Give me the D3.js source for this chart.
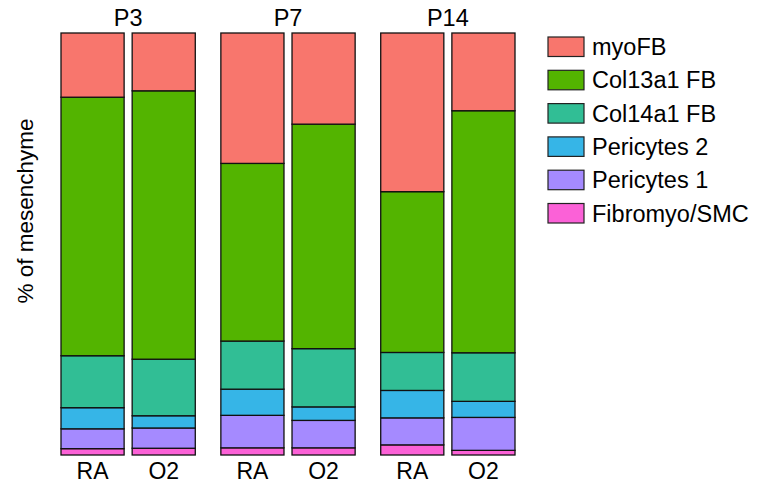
<!DOCTYPE html>
<html>
<head>
<meta charset="utf-8">
<script src="https://cdn.jsdelivr.net/npm/d3@7/dist/d3.min.js"></script>
<style>
  html, body { margin: 0; padding: 0; background: #fff; }
  svg { display: block; font-family: "Liberation Sans", Arial, sans-serif; }
</style>
</head>
<body>
<svg id="chart" width="758" height="488"></svg>
<script>
// ---- data (percent of mesenchyme) ----
const timepoints = ["P3", "P7", "P14"];
const conditions = ["RA", "O2"];
const cellTypes = ["myoFB", "Col13a1 FB", "Col14a1 FB", "Pericytes 2", "Pericytes 1", "Fibromyo/SMC"];
const colors = ["#F8766D", "#53B400", "#31BE95", "#36B5E7", "#A58AFF", "#FB61D7"];
// values listed in cellTypes order, one array per bar
const P3_RA  = [15.2, 61.2, 12.3, 5.0, 4.7, 1.5];
const P3_O2  = [13.7, 63.6, 13.4, 2.9, 4.8, 1.6];
const P7_RA  = [30.9, 42.1, 11.4, 6.2, 7.7, 1.7];
const P7_O2  = [21.6, 53.2, 13.8, 3.2, 6.5, 1.7];
const P14_RA = [37.6, 38.1, 9.0, 6.5, 6.4, 2.4];
const P14_O2 = [18.4, 57.3, 11.5, 3.8, 7.8, 1.1];
const yLabel = "% of mesenchyme";

const barValues = {
  "P3|RA": P3_RA, "P3|O2": P3_O2,
  "P7|RA": P7_RA, "P7|O2": P7_O2,
  "P14|RA": P14_RA, "P14|O2": P14_O2
};

const rows = [];
timepoints.forEach(t => conditions.forEach(c => {
  const r = { time: t, cond: c };
  cellTypes.forEach((ct, i) => r[ct] = barValues[t + "|" + c][i]);
  rows.push(r);
}));

const svg = d3.select("#chart");
const plotTop = 33, plotBottom = 455;

const xPanel = d3.scaleBand().domain(timepoints).range([61, 515]).paddingInner(0.16).paddingOuter(0);
const xCond = d3.scaleBand().domain(conditions).range([0, xPanel.bandwidth()]).paddingInner(0.113).paddingOuter(0);
const y = d3.scaleLinear().domain([0, 1]).range([plotBottom, plotTop]);
const color = d3.scaleOrdinal().domain(cellTypes).range(colors);

// stack from bottom: Fibromyo/SMC first ... myoFB on top
const stackKeys = cellTypes.slice().reverse();
const series = d3.stack().keys(stackKeys).offset(d3.stackOffsetExpand)(rows);

const g = svg.append("g");
series.forEach(s => {
  g.selectAll(null)
    .data(s)
    .join("rect")
    .attr("x", d => xPanel(d.data.time) + xCond(d.data.cond))
    .attr("y", d => y(d[1]))
    .attr("width", xCond.bandwidth())
    .attr("height", d => y(d[0]) - y(d[1]))
    .attr("fill", color(s.key))
    .attr("stroke", "#111")
    .attr("stroke-width", 1.3);
});

// facet strip labels
svg.selectAll(".strip")
  .data(timepoints)
  .join("text")
  .attr("x", d => xPanel(d) + xPanel.bandwidth() / 2)
  .attr("y", 26)
  .attr("text-anchor", "middle")
  .attr("font-size", 23.5)
  .attr("fill", "#000")
  .text(d => d);

// x labels per panel
timepoints.forEach(t => {
  svg.selectAll(null)
    .data(conditions)
    .join("text")
    .attr("x", c => xPanel(t) + xCond(c) + xCond.bandwidth() / 2)
    .attr("y", 478.5)
    .attr("text-anchor", "middle")
    .attr("font-size", 23)
    .attr("fill", "#000")
    .text(c => c);
});

// y label
svg.append("text")
  .attr("transform", "translate(33,211) rotate(-90)")
  .attr("text-anchor", "middle")
  .attr("font-size", 22.5)
  .attr("fill", "#000")
  .text(yLabel);

// legend
const leg = svg.append("g").attr("transform", "translate(548,37)");
const li = leg.selectAll("g")
  .data(cellTypes)
  .join("g")
  .attr("transform", (d, i) => `translate(0,${i * 33.3})`);
li.append("rect")
  .attr("width", 36)
  .attr("height", 19.5)
  .attr("fill", d => color(d))
  .attr("stroke", "#222")
  .attr("stroke-width", 1.2);
li.append("text")
  .attr("x", 44)
  .attr("y", 18)
  .attr("font-size", 23.5)
  .attr("fill", "#000")
  .text(d => d);
</script>
</body>
</html>
